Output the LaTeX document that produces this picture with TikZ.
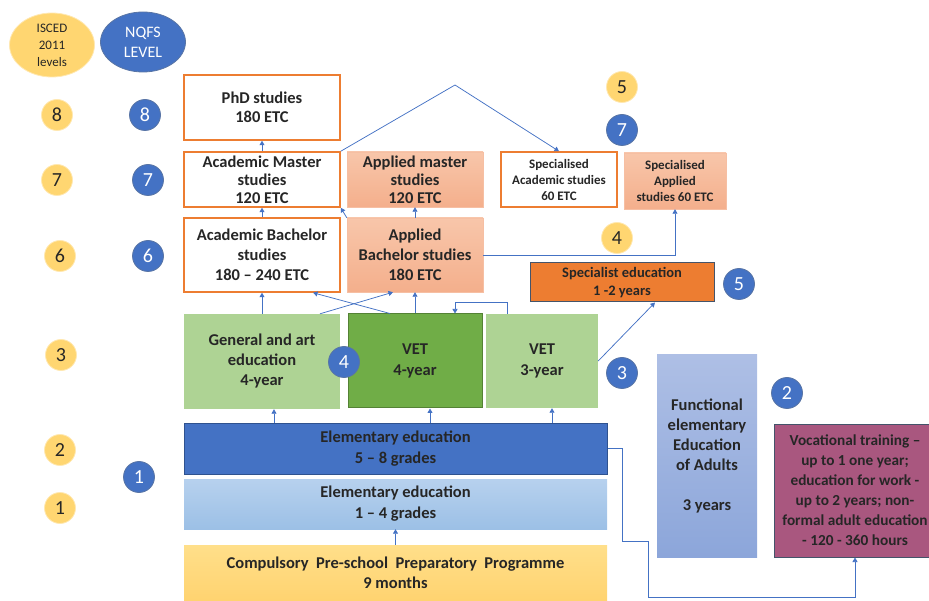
\documentclass[tikz,border=0pt]{standalone}
\usepackage{fontspec}
\setmainfont{Carlito}
\usetikzlibrary{arrows.meta,shapes.geometric}
\definecolor{orline}{HTML}{ED7D31}
\definecolor{salmonT}{HTML}{F8C6AA}
\definecolor{salmonB}{HTML}{F4AF8C}
\definecolor{lgreen}{HTML}{AED394}
\definecolor{dgreen}{HTML}{70AD47}
\definecolor{dgreenline}{HTML}{548235}
\definecolor{elblue}{HTML}{4472C4}
\definecolor{elblueline}{HTML}{2F528F}
\definecolor{skyT}{HTML}{B7D1EE}
\definecolor{skyB}{HTML}{9CC0E6}
\definecolor{preT}{HTML}{FFDF8A}
\definecolor{preB}{HTML}{FFD370}
\definecolor{lavT}{HTML}{AEBFE5}
\definecolor{lavB}{HTML}{8CA6DA}
\definecolor{mauve}{HTML}{A9577F}
\definecolor{slate}{HTML}{44546A}
\definecolor{isyel}{HTML}{FFD671}
\definecolor{txt}{HTML}{262626}

\begin{document}
\begin{tikzpicture}[x=1pt, y=-1pt, >={Triangle[width=5pt,length=4.5pt]},
		box/.style={rectangle, inner sep=1pt, align=center, text=txt,
			font=\bfseries\fontsize{16.5}{19}\selectfont},
		sz/.style 2 args={minimum width=#1, minimum height=#2},
		acad/.style={box, draw=orline, line width=1.5pt, fill=white},
		appl/.style={box, top color=salmonT, bottom color=salmonB, draw=salmonB!80!white, line width=0.4pt},
		isc/.style={circle, fill=isyel, draw=isyel!55!white, line width=0.8pt, minimum size=31pt,
			inner sep=0pt, text=txt, font=\fontsize{20}{20}\selectfont},
		nqf/.style={circle, fill=elblue, draw=elblueline!80, line width=0.8pt, minimum size=31pt,
			inner sep=0pt, text=white, font=\fontsize{20}{20}\selectfont},
		conn/.style={draw=elblue, line width=0.75pt, ->}]
		\useasboundingbox (0,0) rectangle (929,601);
		% ---------------- legend ----------------
		\node[ellipse, minimum width=85, minimum height=64, inner sep=0pt, fill=isyel, draw=isyel!55!white,
			line width=0.8pt, align=center, text=txt, font=\fontsize{13}{17}\selectfont] (isced) at (52,45) {ISCED\\2011\\levels};
		\node[ellipse, minimum width=85, minimum height=60, inner sep=0pt, fill=elblue, draw=elblueline!80,
			line width=0.8pt, align=center, text=white, font=\fontsize{16}{20}\selectfont] (nqfs) at (143,42) {NQFS\\LEVEL};
		% ---------------- higher education ----------------
		\node[acad, sz={156}{65}] (phd) at (262,107.5) {PhD studies\\180 ETC};
		\node[acad, sz={156}{55}, font=\bfseries\fontsize{16.5}{18}\selectfont] (amast) at (262,179.5) {Academic Master\\studies\\120 ETC};
		\node[appl, sz={136}{55}, font=\bfseries\fontsize{16.5}{18}\selectfont] (apmast) at (415,179.5) {Applied master\\studies\\120 ETC};
		\node[acad, sz={116}{55}, font=\bfseries\fontsize{13}{16}\selectfont] (spacad) at (559,179.5) {Specialised\\Academic studies\\60 ETC};
		\node[appl, sz={102}{56}, font=\bfseries\fontsize{13}{16}\selectfont] (spappl) at (675,181) {Specialised\\Applied\\studies 60 ETC};
		\node[acad, sz={156}{74}, font=\bfseries\fontsize{16.5}{20}\selectfont] (abach) at (262,255) {Academic Bachelor\\studies\\180 -- 240 ETC};
		\node[appl, sz={136}{74}, font=\bfseries\fontsize{16.5}{20}\selectfont] (apbach) at (415,255) {Applied\\Bachelor studies\\180 ETC};
		\node[box, sz={184}{39}, fill=orline, draw=slate, line width=1pt, font=\bfseries\fontsize{14.5}{18}\selectfont] (spec) at (622,282.5) {Specialist education\\1 -2 years};
		% ---------------- secondary education ----------------
		\node[box, sz={156}{95}, fill=lgreen, font=\bfseries\fontsize{16.5}{20}\selectfont] (gen) at (262,361.5) {General and art\\education\\4-year};
		\node[box, sz={134}{94}, fill=dgreen, draw=dgreenline, line width=1pt, font=\bfseries\fontsize{16.5}{21}\selectfont] (vet4) at (415,361) {VET\\4-year};
		\node[box, sz={112}{94}, fill=lgreen, font=\bfseries\fontsize{16.5}{21}\selectfont] (vet3) at (542,361) {VET\\3-year};
		% ---------------- elementary and pre-school ----------------
		\node[box, sz={423}{51}, fill=elblue, draw=elblueline, line width=1pt, font=\bfseries\fontsize{16.5}{21}\selectfont] (el58) at (395.5,448.5) {Elementary education\\5 -- 8 grades};
		\node[box, sz={423}{50}, top color=skyT, bottom color=skyB, font=\bfseries\fontsize{16.5}{21}\selectfont] (el14) at (395.5,504) {Elementary education\\1 -- 4 grades};
		\node[box, sz={423}{56}, top color=preT, bottom color=preB, font=\bfseries\fontsize{16.5}{20}\selectfont] (pre) at (395.5,573) {Compulsory\ \ Pre-school\ \ Preparatory\ \ Programme\\9 months};
		% ---------------- adult education ----------------
		\node[box, sz={100}{202}, top color=lavT, bottom color=lavB, font=\bfseries\fontsize{16.5}{20}\selectfont] (func) at (707,456) {Functional\\elementary\\Education\\of Adults\\[20pt]3 years};
		\node[box, sz={162}{133}, fill=mauve, draw=slate, line width=1pt, font=\bfseries\fontsize{15.3}{20}\selectfont] (voc) at (855,490.5) {Vocational training --\\up to 1 one year;\\education for work -\\up to 2 years; non-\\formal adult education\\- 120 - 360 hours};
		% ---------------- level numbers ----------------
		\foreach \n/\x/\y [count=\k] in {8/57/115, 7/57/180, 6/60/256, 3/61/355, 2/60/450, 1/60/508, 5/622/87, 4/617/238}
			\node[isc] (is\k) at (\x,\y) {\n};
		\foreach \n/\x/\y [count=\k] in {8/145/115, 7/148/180, 6/148/256, 1/139/477, 4/344/362, 3/622/373, 5/739/284, 2/787/393, 7/622/130}
			\node[nqf] (nq\k) at (\x,\y) {\n};
		% ---------------- connectors ----------------
		\coordinate (peak) at (455,85);
		\draw[conn] (amast.north) -- (phd.south);
		\draw[conn] (abach.north) -- (amast.south);
		\draw[conn] (apbach.north) -- (apmast.south);
		\draw[conn] (apbach.north west) -- (amast.south east);
		\draw[conn] (amast.north east) -- (peak) -- (spacad.north);
		\draw[conn] (apbach.east) -| (spappl.south);
		\draw[conn] (gen.north) -- (abach.south);
		\draw[conn] ([xshift=58]gen.north) -- ([xshift=-22]apbach.south);
		\draw[conn] ([xshift=-25]vet4.north) -- ([xshift=51]abach.south);
		\draw[conn] (vet4.north) -- (apbach.south);
		\draw[conn] ([xshift=-35]vet3.north) -- ++(0,-11) -| ([xshift=40]vet4.north);
		\draw[conn] (vet3.east) -- ([xshift=33]spec.south);
		\draw[conn] ([xshift=12]el58.north -| gen.south) -- ([xshift=12]gen.south);
		\draw[conn] ([xshift=15]el58.north -| vet4.south) -- ([xshift=15]vet4.south);
		\draw[conn] ([xshift=10]el58.north -| vet3.south) -- ([xshift=10]vet3.south);
		\draw[conn] (pre.north) -- (el14.south);
		\draw[conn] (el58.east) -- ++(15,0) -- ++(0,92.5) -- ++(26,0) -- ++(0,56) -| (voc.south);
	\end{tikzpicture}
\end{document}
